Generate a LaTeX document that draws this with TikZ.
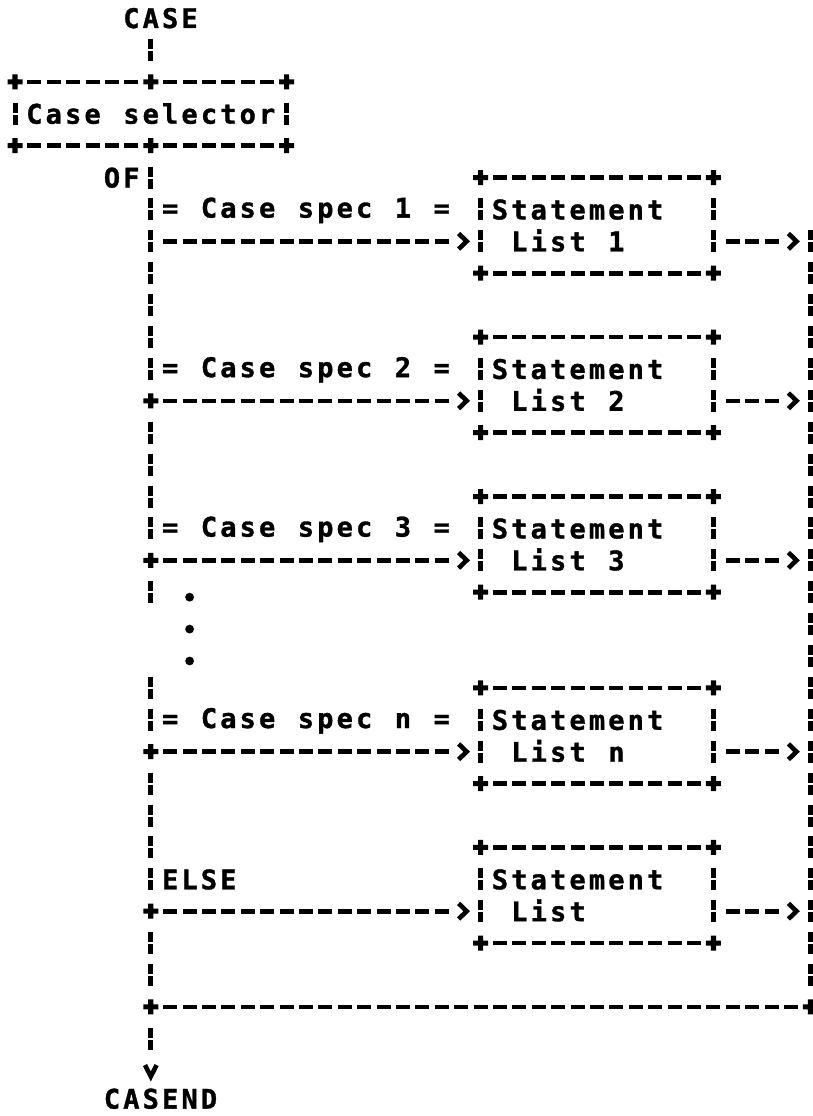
\documentclass[tikz,border=0pt]{standalone}
\usepackage{fontspec}
\newfontfamily\printerfont{DejaVu Sans Mono}[BoldFeatures={FakeBold=1.2}]

% one character cell of the printout
\newlength\cellw
\setlength\cellw{19.4pt}
\ExplSyntaxOn
\NewDocumentCommand \gridtext { m }
  { \str_map_inline:nn {#1} { \makebox[\cellw]{##1} } }
\ExplSyntaxOff
\newcommand\rowstrut{\rule[-2pt]{0pt}{24pt}}
% centres of grid column #1 and grid row #1
\newcommand\cx[1]{15+19.4*(#1)}
\newcommand\ry[1]{18+31.9*(#1)}

% printer-style ">" head: open chevron, the line stops short of it
\pgfdeclarearrow{
  name = gtchevron,
  setup code = {
    \pgfarrowssettipend{0pt}
    \pgfarrowssetlineend{-18pt}
    \pgfarrowssetbackend{-13pt}
  },
  drawing code = {
    \pgfsetdash{}{0pt}
    \pgfsetlinewidth{4.6pt}
    \pgfsetmiterjoin
    \pgfsetbuttcap
    \pgfpathmoveto{\pgfqpoint{-11.5pt}{7.8pt}}
    \pgfpathlineto{\pgfqpoint{-3.4pt}{0pt}}
    \pgfpathlineto{\pgfqpoint{-11.5pt}{-7.8pt}}
    \pgfusepathqstroke
  }
}
% printer-style "v" head
\pgfdeclarearrow{
  name = vchevron,
  setup code = {
    \pgfarrowssettipend{0pt}
    \pgfarrowssetlineend{-20pt}
    \pgfarrowssetbackend{-15pt}
  },
  drawing code = {
    \pgfsetdash{}{0pt}
    \pgfsetlinewidth{4.6pt}
    \pgfsetmiterjoin
    \pgfsetbuttcap
    \pgfpathmoveto{\pgfqpoint{-14.5pt}{5.8pt}}
    \pgfpathlineto{\pgfqpoint{-3.2pt}{0pt}}
    \pgfpathlineto{\pgfqpoint{-14.5pt}{-5.8pt}}
    \pgfusepathqstroke
  }
}

\begin{document}
\begin{tikzpicture}[x=1pt,y=-1pt,
  txt/.style={inner sep=0pt, outer sep=0pt,
    font=\printerfont\bfseries\fontsize{27pt}{31.9pt}\selectfont},
  cellbox/.style={txt, align=left, inner xsep=9.7pt, inner ysep=0pt},
  stmt/.style={cellbox, text width=213.4pt, minimum height=95.7pt},
  hline/.style={line width=4.6pt, dash pattern=on 14pt off 5.4pt,
    shorten <=12.4pt, shorten >=12.4pt},
  vline/.style={line width=5pt, dash pattern=on 10pt off 2pt on 10pt off 9.9pt,
    shorten <=20.9pt, shorten >=20.9pt},
  feed/.style={hline, shorten >=10.5pt, -gtchevron},
  junction/.pic={\fill (-7.5pt,-2.5pt) rectangle (7.5pt,2.5pt)
                       (-2.6pt,-7.5pt) rectangle (2.6pt,7.5pt);},
]
\useasboundingbox (0,0) rectangle (813,1116);

% ---- texts and boxes
\node[txt] (case) at ({\cx{7.5}},{\ry{0}}) {\rowstrut\gridtext{CASE}};
\node[cellbox, text width=252.2pt, minimum height=63.8pt] (sel)
  at ({\cx{7}},{\ry{3}}) {\rowstrut\gridtext{Case selector}};
\node[txt] (of) at ({\cx{5.5}},{\ry{5}}) {\rowstrut\gridtext{OF}};

\node[txt] (s1) at ({\cx{15}},{\ry{6}})  {\rowstrut\gridtext{= Case spec 1 =}};
\node[txt] (s2) at ({\cx{15}},{\ry{11}}) {\rowstrut\gridtext{= Case spec 2 =}};
\node[txt] (s3) at ({\cx{15}},{\ry{16}}) {\rowstrut\gridtext{= Case spec 3 =}};
\node[txt] (sn) at ({\cx{15}},{\ry{22}}) {\rowstrut\gridtext{= Case spec n =}};
\node[txt] (se) at ({\cx{9.5}},{\ry{27}}) {\rowstrut\gridtext{ELSE}};

\node[stmt] (b1) at ({\cx{30}},{\ry{6.5}})
  {\rowstrut\gridtext{Statement}\\\rowstrut\gridtext{ List 1}};
\node[stmt] (b2) at ({\cx{30}},{\ry{11.5}})
  {\rowstrut\gridtext{Statement}\\\rowstrut\gridtext{ List 2}};
\node[stmt] (b3) at ({\cx{30}},{\ry{16.5}})
  {\rowstrut\gridtext{Statement}\\\rowstrut\gridtext{ List 3}};
\node[stmt] (bn) at ({\cx{30}},{\ry{22.5}})
  {\rowstrut\gridtext{Statement}\\\rowstrut\gridtext{ List n}};
\node[stmt] (be) at ({\cx{30}},{\ry{27.5}})
  {\rowstrut\gridtext{Statement}\\\rowstrut\gridtext{ List}};

\node[txt] (casend) at ({\cx{7.5}},{\ry{34}-4}) {\rowstrut\gridtext{CASEND}};

% ---- junctions on the left spine and the right collector
\coordinate (j1) at ({\cx{7}},{\ry{7}});
\coordinate (j2) at ({\cx{7}},{\ry{12}});
\coordinate (j3) at ({\cx{7}},{\ry{17}});
\coordinate (gapA) at ({\cx{7}},{\ry{19}});
\coordinate (gapB) at ({\cx{7}},{\ry{20}});
\coordinate (j4) at ({\cx{7}},{\ry{23}});
\coordinate (j5) at ({\cx{7}},{\ry{28}});
\coordinate (jb) at ({\cx{7}},{\ry{31}});
\coordinate (m1) at ({\cx{41}},{\ry{7}});
\coordinate (m2) at ({\cx{41}},{\ry{12}});
\coordinate (m3) at ({\cx{41}},{\ry{17}});
\coordinate (m4) at ({\cx{41}},{\ry{23}});
\coordinate (m5) at ({\cx{41}},{\ry{28}});
\coordinate (jbr) at ({\cx{41}},{\ry{31}});

% ---- box frames
\foreach \b in {sel,b1,b2,b3,bn,be}{
  \draw[hline] (\b.north west) -- (\b.north east);
  \draw[hline] (\b.south west) -- (\b.south east);
  \draw[vline] (\b.north west) -- (\b.south west);
  \draw[vline] (\b.north east) -- (\b.south east);
  \foreach \a in {north west,north east,south west,south east}
    \pic at (\b.\a) {junction};
}
\pic at (sel.north) {junction};
\pic at (sel.south) {junction};

% ---- spine
\draw[vline] (case.center -| sel.north) -- (sel.north);
\draw[vline] (sel.south) -- (j2);
\draw[vline] (j2) -- (j3);
\draw[vline] (j3) -- (gapA);
\draw[vline] (gapB) -- (j4);
\draw[vline] (j4) -- (j5);
\draw[vline] (j5) -- (jb);
\draw[vline, dash pattern=on 10pt off 2pt on 10pt off 60pt, shorten >=19pt,
  -vchevron] (jb) -- (jb |- casend.center);

% ---- branches into the statement lists
\draw[feed] (j1) -- (j1 -| b1.west);
\draw[feed] (j2) -- (j2 -| b2.west);
\draw[feed] (j3) -- (j3 -| b3.west);
\draw[feed] (j4) -- (j4 -| bn.west);
\draw[feed] (j5) -- (j5 -| be.west);

% ---- exits to the collector
\draw[feed] (m1 -| b1.east) -- (m1);
\draw[feed] (m2 -| b2.east) -- (m2);
\draw[feed] (m3 -| b3.east) -- (m3);
\draw[feed] (m4 -| bn.east) -- (m4);
\draw[feed] (m5 -| be.east) -- (m5);
\draw[vline, shorten <=-11pt] (m1) -- (jbr);
\draw[hline] (jb) -- (jbr);

\foreach \j in {j2,j3,j4,j5,jb,jbr} \pic at (\j) {junction};

% ---- ellipsis between case 3 and case n
\foreach \r in {18,19,20} \fill ({\cx{9}},{\ry{\r}+5}) circle (4.4pt);
\end{tikzpicture}
\end{document}
